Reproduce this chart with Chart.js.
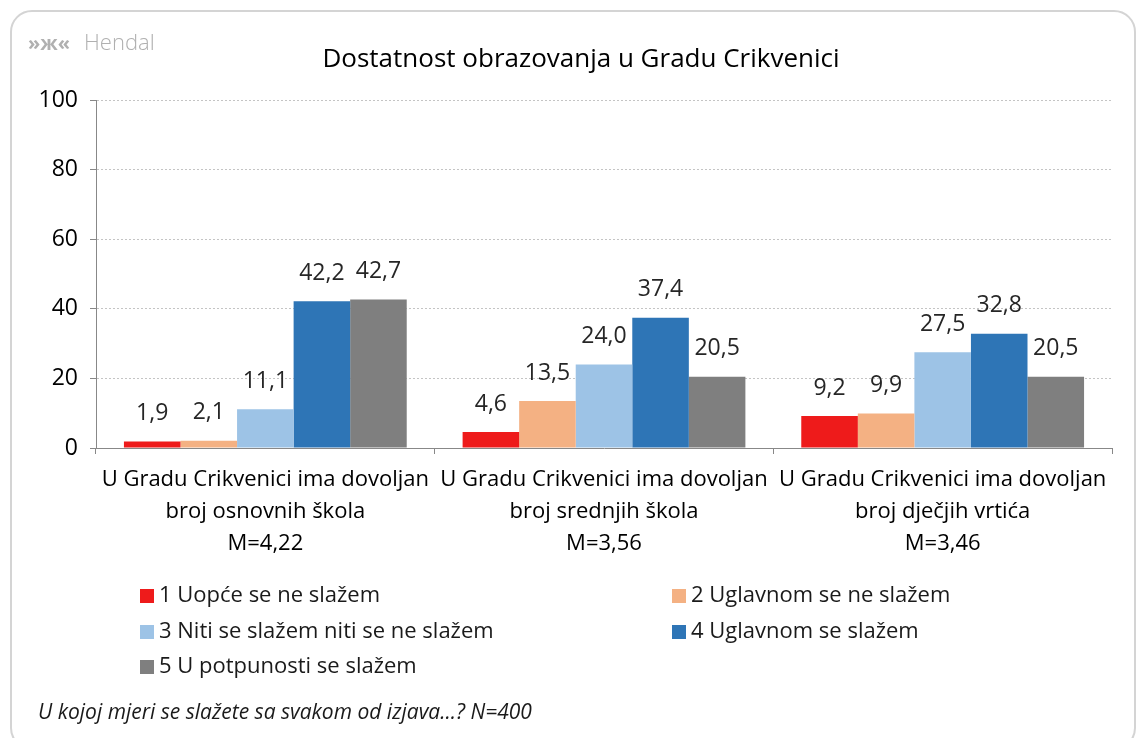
<!DOCTYPE html>
<html>
<head>
<meta charset="utf-8">
<script src="https://cdn.jsdelivr.net/npm/chart.js@4/dist/chart.umd.min.js"></script>
<style>
  html, body { margin: 0; padding: 0; background: #fff; }
  #wrap { position: relative; width: 1147px; height: 738px; }
  #frame {
    position: absolute; left: 10px; top: 10px; width: 1126px; height: 740px;
    border: 2px solid #d4d4d4; border-radius: 22px; box-sizing: border-box;
  }
  canvas { position: absolute; left: 0; top: 0; }
</style>
</head>
<body>
<div id="wrap">
  <div id="frame"></div>
  <canvas id="myChart" width="1147" height="738"></canvas>
</div>
<script>
const title = 'Dostatnost obrazovanja u Gradu Crikvenici';
const footnote = 'U kojoj mjeri se slažete sa svakom od izjava...? N=400';
const categories = [
  ['U Gradu Crikvenici ima dovoljan', 'broj osnovnih škola', 'M=4,22'],
  ['U Gradu Crikvenici ima dovoljan', 'broj srednjih škola', 'M=3,56'],
  ['U Gradu Crikvenici ima dovoljan', 'broj dječjih vrtića', 'M=3,46']
];
const seriesNames = [
  '1 Uopće se ne slažem',
  '2 Uglavnom se ne slažem',
  '3 Niti se slažem niti se ne slažem',
  '4 Uglavnom se slažem',
  '5 U potpunosti se slažem'
];
const s1 = [1.9, 4.6, 9.2];
const s2 = [2.1, 13.5, 9.9];
const s3 = [11.1, 24.0, 27.5];
const s4 = [42.2, 37.4, 32.8];
const s5 = [42.7, 20.5, 20.5];
const colors = ['#ee1b1b', '#f4b183', '#9dc3e6', '#2e75b6', '#7f7f7f'];
const yTicks = [0, 20, 40, 60, 80, 100];

const FONT = '"Open Sans", sans-serif';

// value labels above bars, comma as decimal separator
const valueLabels = {
  id: 'valueLabels',
  afterDatasetsDraw(chart) {
    const ctx = chart.ctx;
    ctx.save();
    ctx.font = '23px ' + FONT;
    ctx.fillStyle = '#262626';
    ctx.textAlign = 'center';
    ctx.textBaseline = 'middle';
    chart.data.datasets.forEach((ds, i) => {
      chart.getDatasetMeta(i).data.forEach((bar, j) => {
        ctx.fillText(ds.data[j].toFixed(1).replace('.', ','), bar.x, bar.y - 28);
      });
    });
    ctx.restore();
  }
};

// title, logo, legend in two columns, footnote
const decorations = {
  id: 'decorations',
  afterDraw(chart) {
    const ctx = chart.ctx;
    ctx.save();
    ctx.fillStyle = '#000';
    ctx.textAlign = 'center';
    ctx.textBaseline = 'middle';
    ctx.font = '26px ' + FONT;
    ctx.fillText(title, 581, 60);

    // logo
    ctx.fillStyle = '#b0b0b0';
    ctx.textAlign = 'left';
    ctx.font = '300 22px ' + FONT;
    ctx.fillText('Hendal', 84, 44);
    ctx.font = 'bold 20px ' + FONT;
    ctx.fillText('»ж«', 28, 44);

    // legend
    ctx.font = '22px ' + FONT;
    const cols = [140, 672];
    const rows = [596, 632, 667];
    chart.data.datasets.forEach((ds, i) => {
      const x = cols[i % 2];
      const y = rows[Math.floor(i / 2)];
      ctx.fillStyle = ds.backgroundColor;
      ctx.fillRect(x, y - 7, 14, 14);
      ctx.fillStyle = '#1a1a1a';
      ctx.fillText(ds.label, x + 19, y);
    });

    // footnote
    ctx.font = 'italic 21px ' + FONT;
    ctx.fillStyle = '#1a1a1a';
    ctx.fillText(footnote, 38, 713);
    ctx.restore();
  }
};

const ctx = document.getElementById('myChart').getContext('2d');
const myChart = new Chart(ctx, {
  type: 'bar',
  data: {
    labels: categories,
    datasets: [s1, s2, s3, s4, s5].map((d, i) => ({
      label: seriesNames[i],
      data: d,
      backgroundColor: colors[i],
      borderWidth: 0,
      categoryPercentage: 0.835,
      barPercentage: 1
    }))
  },
  options: {
    responsive: false,
    animation: false,
    layout: { padding: { top: 100, right: 35, left: 0, bottom: 0 } },
    plugins: { legend: { display: false }, tooltip: { enabled: false }, title: { display: false } },
    scales: {
      y: {
        min: 0, max: 100,
        afterBuildTicks(scale) { scale.ticks = yTicks.map(v => ({ value: v })); },
        afterFit(scale) { scale.width = 96; },
        ticks: { color: '#000', font: { size: 23, family: FONT }, padding: 12 },
        grid: { color: '#c4c4c4', tickColor: '#888', tickLength: 6, drawTicks: true },
        border: { color: '#888', width: 1, dash: [2, 2] }
      },
      x: {
        afterFit(scale) { scale.height = 290; },
        ticks: { color: '#000', font: { size: 22, family: FONT, lineHeight: 1.45 }, padding: 10, maxRotation: 0, autoSkip: false },
        grid: { offset: true, drawOnChartArea: false, tickLength: 6, tickColor: '#888' },
        border: { color: '#888', width: 1 }
      }
    }
  },
  plugins: [valueLabels, decorations]
});
</script>
</body>
</html>
